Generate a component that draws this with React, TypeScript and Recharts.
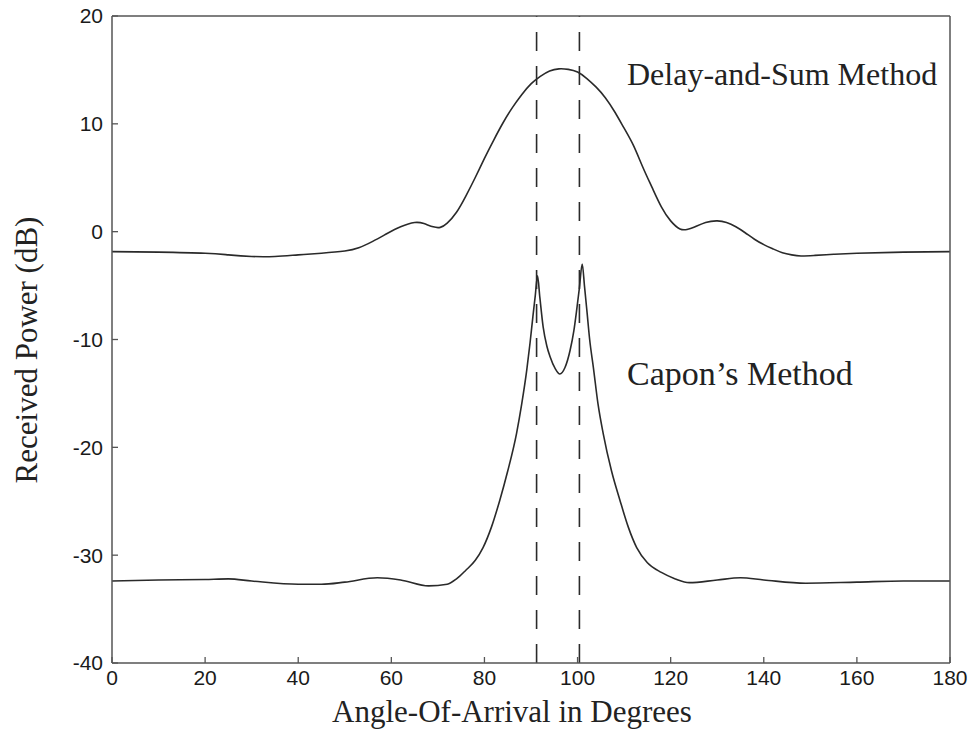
import { LineChart, Line, XAxis, YAxis, ReferenceLine } from "recharts";

// axis ticks
const ANGLE_TICKS = [0, 20, 40, 60, 80, 100, 120, 140, 160, 180];
const POWER_TICKS = [-40, -30, -20, -10, 0, 10, 20];

// true source directions (dashed markers)
const SOURCE_ANGLES = [91.2, 100.4];

// Delay-and-Sum beam pattern (dB)
const dsAngles = [
  0, 10, 20, 25, 30, 35, 40, 45, 50, 53, 56, 59, 62, 65, 67, 69, 70.5, 72, 74,
  76, 78, 80, 82, 84, 86, 88, 90, 92, 94, 96, 98, 100, 102, 104, 106, 108, 110,
  112, 114, 116, 118, 120, 122, 123.5, 125, 127.5, 130, 132, 134, 136, 138, 140,
  142, 144, 146, 148, 151, 155, 160, 170, 180,
];
const dsPower = [
  -1.85, -1.9, -2.0, -2.15, -2.3, -2.3, -2.15, -2.0, -1.8, -1.5, -0.9, -0.2,
  0.45, 0.85, 0.75, 0.45, 0.4, 0.8, 1.8, 3.3, 5.0, 6.8, 8.5, 10.1, 11.5, 12.7,
  13.7, 14.4, 14.9, 15.1, 15.05, 14.8, 14.2, 13.4, 12.4, 11.1, 9.6, 8.0, 6.0,
  4.1, 2.3, 1.0, 0.25, 0.2, 0.4, 0.85, 1.0, 0.85, 0.45, -0.1, -0.7, -1.2, -1.6,
  -1.95, -2.15, -2.25, -2.2, -2.1, -2.0, -1.9, -1.85,
];

// Capon spectrum (dB)
const caponAngles = [
  0, 10, 20, 25, 30, 40, 45, 50, 57, 62, 68, 72, 74, 76, 78, 79.7, 81.5, 83.3,
  85, 86.9, 88, 89.1, 89.8, 90.4, 90.9, 91.4, 91.9, 92.6, 93.4, 94.1, 95.2, 96.2,
  97.3, 98.4, 99.2, 99.8, 100.4, 101, 101.5, 102, 102.6, 103.4, 104.4, 105.5,
  107.3, 109.1, 110.9, 112.7, 115, 118, 121, 124, 130, 135, 140, 149, 160, 170,
  180,
];
const caponPower = [
  -32.4, -32.3, -32.25, -32.2, -32.4, -32.7, -32.7, -32.5, -32.1, -32.3, -32.85,
  -32.7, -32.2, -31.4, -30.5, -29.3, -27.4, -24.9, -22.2, -18.7, -16.0, -12.8,
  -10.3, -7.9, -6.0, -4.1, -6.1, -8.8, -10.6, -11.6, -12.7, -13.2, -12.6, -11.0,
  -9.2, -7.3, -5.2, -3.0, -5.1, -7.3, -10.0, -12.6, -16.0, -18.7, -22.2, -24.9,
  -27.4, -29.3, -30.7, -31.6, -32.2, -32.55, -32.3, -32.1, -32.3, -32.6, -32.5,
  -32.4, -32.4,
];

const dsData = dsAngles.map((a, i) => ({ angle: a, power: dsPower[i] }));
const caponData = caponAngles.map((a, i) => ({ angle: a, power: caponPower[i] }));

const SERIF = "'Liberation Serif', 'DejaVu Serif', serif";
const SANS = "'Liberation Sans', Arial, sans-serif";
const INK = "#2a2a2a";
const FRAME = "#555";
const TICK_LEN = 6;
const GAP_X = 7;
const GAP_Y = 9;

// MATLAB-style inward ticks, drawn together with the label
function BottomTick(props: any) {
  const { x, y, payload } = props;
  const axisY = y - GAP_X;
  return (
    <g>
      <line x1={x} y1={axisY} x2={x} y2={axisY - TICK_LEN} stroke={FRAME} strokeWidth={1.3} />
      <text x={x} y={y} dy="0.71em" textAnchor="middle" fontFamily={SANS} fontSize={21} fill="#1a1a1a">
        {payload.value}
      </text>
    </g>
  );
}

function LeftTick(props: any) {
  const { x, y, payload } = props;
  const axisX = x + GAP_Y;
  return (
    <g>
      <line x1={axisX} y1={y} x2={axisX + TICK_LEN} y2={y} stroke={FRAME} strokeWidth={1.3} />
      <text x={x} y={y} dy="0.355em" textAnchor="end" fontFamily={SANS} fontSize={21} fill="#1a1a1a">
        {payload.value}
      </text>
    </g>
  );
}

function TopTick(props: any) {
  const { x, y } = props;
  return <line x1={x} y1={y} x2={x} y2={y + TICK_LEN} stroke={FRAME} strokeWidth={1.3} />;
}

function RightTick(props: any) {
  const { x, y } = props;
  return <line x1={x} y1={y} x2={x - TICK_LEN} y2={y} stroke={FRAME} strokeWidth={1.3} />;
}

export default function App() {
  return (
    <div style={{ position: "absolute", left: 0, top: 0, width: 975, height: 730, background: "#fff" }}>
      <LineChart width={975} height={730} margin={{ top: 15, right: 24, bottom: 27, left: 42 }}>
        <XAxis
          xAxisId="b"
          dataKey="angle"
          type="number"
          domain={[0, 180]}
          ticks={ANGLE_TICKS}
          interval={0}
          height={40}
          tickSize={0}
          tickLine={false}
          tickMargin={GAP_X}
          stroke={FRAME}
          strokeWidth={1.5}
          tick={<BottomTick />}
        />
        <XAxis
          xAxisId="t"
          orientation="top"
          type="number"
          domain={[0, 180]}
          ticks={ANGLE_TICKS}
          interval={0}
          height={1}
          tickSize={0}
          tickLine={false}
          tickMargin={0}
          stroke={FRAME}
          strokeWidth={1.5}
          tick={<TopTick />}
        />
        <YAxis
          yAxisId="l"
          type="number"
          domain={[-40, 20]}
          ticks={POWER_TICKS}
          interval={0}
          width={70}
          tickSize={0}
          tickLine={false}
          tickMargin={GAP_Y}
          stroke={FRAME}
          strokeWidth={1.5}
          tick={<LeftTick />}
        />
        <YAxis
          yAxisId="r"
          orientation="right"
          type="number"
          domain={[-40, 20]}
          ticks={POWER_TICKS}
          interval={0}
          width={1}
          tickSize={0}
          tickLine={false}
          tickMargin={0}
          stroke={FRAME}
          strokeWidth={1.5}
          tick={<RightTick />}
        />
        {SOURCE_ANGLES.map((a) => (
          <ReferenceLine
            key={a}
            x={a}
            xAxisId="b"
            yAxisId="l"
            stroke={INK}
            strokeWidth={1.6}
            strokeDasharray="19 15"
          />
        ))}
        <Line
          data={dsData}
          xAxisId="b"
          yAxisId="l"
          dataKey="power"
          type="natural"
          stroke={INK}
          strokeWidth={1.6}
          dot={false}
          isAnimationActive={false}
        />
        <Line
          data={caponData}
          xAxisId="b"
          yAxisId="l"
          dataKey="power"
          type="monotone"
          stroke={INK}
          strokeWidth={1.6}
          dot={false}
          isAnimationActive={false}
        />
      </LineChart>
      <svg
        width={975}
        height={730}
        style={{ position: "absolute", left: 0, top: 0, pointerEvents: "none" }}
      >
        <text x={627} y={85} fontFamily={SERIF} fontSize={32} fill="#222">
          Delay-and-Sum Method
        </text>
        <text x={627} y={385} fontFamily={SERIF} fontSize={34} fill="#222">
          Capon’s Method
        </text>
        <text x={512} y={722} textAnchor="middle" fontFamily={SERIF} fontSize={31} fill="#222">
          Angle-Of-Arrival in Degrees
        </text>
        <text
          x={37}
          y={350}
          textAnchor="middle"
          transform="rotate(-90 37 350)"
          fontFamily={SERIF}
          fontSize={31}
          fill="#222"
        >
          Received Power (dB)
        </text>
      </svg>
    </div>
  );
}
